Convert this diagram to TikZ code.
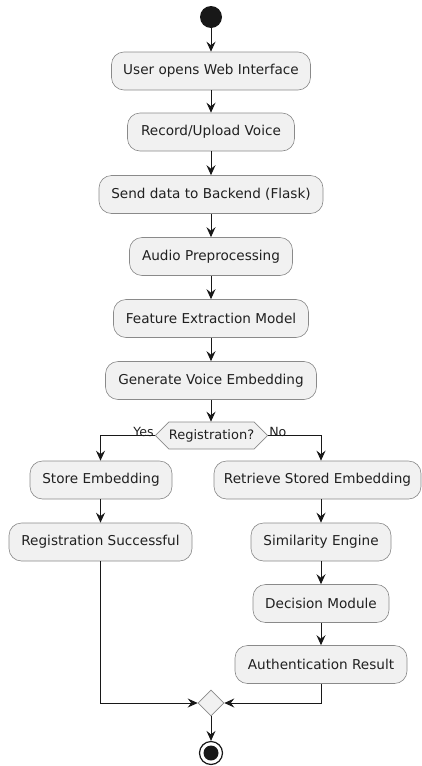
\documentclass[tikz,border=0pt]{standalone}
\usepackage{fontspec}
\setmainfont{DejaVu Sans}
\usetikzlibrary{arrows.meta,shapes.geometric,shapes.symbols}
\definecolor{boxfill}{HTML}{F1F1F1}
\definecolor{ink}{HTML}{181818}
\definecolor{rim}{HTML}{8A8A8A}
\definecolor{txt}{HTML}{202020}
\begin{document}
\begin{tikzpicture}[x=1pt,y=-1pt,
  act/.style={draw=rim, line width=0.6pt, fill=boxfill, rounded corners=12.5pt,
    minimum height=38pt, inner sep=0pt, font=\fontsize{13.6}{16}\selectfont, text=txt},
  choice/.style={draw=rim, line width=0.6pt, fill=boxfill, shape=signal,
    signal to=west and east, signal pointer angle=90, minimum width=111pt,
    minimum height=27pt, inner sep=0pt, font=\fontsize{13}{15}\selectfont, text=txt},
  merger/.style={draw=rim, line width=0.6pt, fill=boxfill, shape=diamond,
    minimum width=26pt, minimum height=26pt, inner sep=0pt},
  flow/.style={draw=ink, line width=1pt, -{Stealth[length=10pt,width=9pt,inset=3.5pt]}},
  guard/.style={font=\fontsize{12.6}{14}\selectfont, inner sep=0pt, text=txt}
]
\useasboundingbox (0,0) rectangle (422,766);

% start and end markers
\node[circle, fill=ink, minimum size=22pt, inner sep=0pt] (start) at (211,17) {};
\node[circle, draw=ink, line width=1.2pt, fill=white, minimum size=23pt, inner sep=0pt] (stop) at (211,753) {};
\node[circle, fill=ink, minimum size=15pt, inner sep=0pt] (stopdot) at (211,753) {};

% main sequence
\node[act, minimum width=199pt] (web)  at (211,71)    {User opens Web Interface};
\node[act, minimum width=167pt] (rec)  at (211,132)   {Record/Upload Voice};
\node[act, minimum width=224pt] (send) at (211,194.5) {Send data to Backend (Flask)};
\node[act, minimum width=163pt] (pre)  at (211,256.5) {Audio Preprocessing};
\node[act, minimum width=195pt] (feat) at (211,318.5) {Feature Extraction Model};
\node[act, minimum width=211pt] (emb)  at (211,380.5) {Generate Voice Embedding};
\node[choice] (regq) at (211.5,435.5) {Registration?};

% registration branch
\node[act, minimum width=142pt] (store) at (101,480)   {Store Embedding};
\node[act, minimum width=183pt] (ok)    at (100.5,542) {Registration Successful};

% authentication branch
\node[act, minimum width=207pt] (ret)  at (317.5,480)  {Retrieve Stored Embedding};
\node[act, minimum width=140pt] (sim)  at (321,542)    {Similarity Engine};
\node[act, minimum width=136pt] (dec)  at (321,603.5)  {Decision Module};
\node[act, minimum width=172pt] (auth) at (321,664.5)  {Authentication Result};

\node[merger] (join) at (211,703) {};

% guard labels
\node[guard, anchor=south east] (yes) at ([xshift=-1pt,yshift=-1pt]regq.west) {Yes};
\node[guard, anchor=south west] (no)  at ([xshift=1pt,yshift=-1pt]regq.east) {No};

% connectors
\draw[flow] (start) -- (web);
\draw[flow] (web) -- (rec);
\draw[flow] (rec) -- (send);
\draw[flow] (send) -- (pre);
\draw[flow] (pre) -- (feat);
\draw[flow] (feat) -- (emb);
\draw[flow] (emb.south) -- (emb.south |- regq.north);
\draw[flow] (regq.west) -| (store.north -| ok.south);
\draw[flow] (store.south -| ok.south) -- (ok);
\draw[flow] (regq.east) -| (ret.north -| sim.north);
\draw[flow] (ret.south -| sim.north) -- (sim);
\draw[flow] (sim) -- (dec);
\draw[flow] (dec) -- (auth);
\draw[flow] (ok.south) |- (join.west);
\draw[flow] (auth.south) |- (join.east);
\draw[flow] (join) -- (stop);
\end{tikzpicture}
\end{document}
